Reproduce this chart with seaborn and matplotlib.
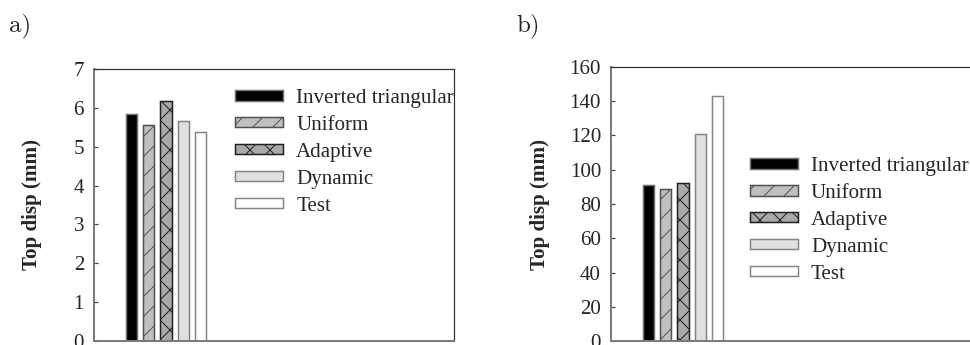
import matplotlib
matplotlib.use("Agg")
import matplotlib.pyplot as plt
import seaborn as sns
import pandas as pd

# Load patterns compared in each panel
methods = ["Inverted triangular", "Uniform", "Adaptive", "Dynamic", "Test"]
case = ["Model"]
top_disp_a = [5.84, 5.57, 6.17, 5.66, 5.37]
top_disp_b = [91.0, 89.0, 92.0, 121.0, 143.0]
ticks_a = [0, 1, 2, 3, 4, 5, 6, 7]
ticks_b = [0, 20, 40, 60, 80, 100, 120, 140, 160]

# Bar styling per load pattern
fills = ["#000000", "#c0c0c0", "#a9a9a9", "#e0e0e0", "#ffffff"]
edges = ["#707070", "#505050", "#202020", "#858585", "#858585"]
hatches = ["", "/", "x", "", ""]

DPI = 60
W, H = 970, 345
PT = 72.0 / DPI  # points per pixel

sns.set_theme(style="white")
plt.rcParams["font.family"] = ["Liberation Serif", "DejaVu Serif"]
plt.rcParams["hatch.linewidth"] = 1.0 * PT

fig = plt.figure(figsize=(W / DPI, H / DPI), dpi=DPI)

FS = 21 * PT


def px_box(left, top, bottom, width):
    return [left / W, (H - bottom) / H, width / W, (bottom - top) / H]


def panel(box, values, ticks, legend_xy, tag, tag_x):
    ax = fig.add_axes(box)
    df = pd.DataFrame({"case": case * len(methods), "method": methods, "disp": values})
    sns.barplot(data=df, x="case", y="disp", hue="method", hue_order=methods,
                palette=dict(zip(methods, fills)), saturation=1, width=0.6,
                gap=0.36, legend=False, ax=ax)
    for cont, fc, ec, h in zip(ax.containers, fills, edges, hatches):
        for p in cont.patches:
            p.set_facecolor(fc)
            p.set_edgecolor(ec)
            p.set_linewidth(1.5 * PT)
            p.set_hatch(h)

    ax.set_xlim(-0.5, 2.0)
    ax.set_ylim(ticks[0], ticks[-1])
    ax.set_yticks(ticks)
    ax.set_yticklabels([str(t) for t in ticks], fontsize=FS)
    ax.set_xticks([])
    ax.set_xlabel("")
    ax.tick_params(axis="y", direction="in", length=4 * PT, width=1.2 * PT,
                   color="#404040", pad=10 * PT, left=True)

    for side in ("left", "bottom"):
        ax.spines[side].set_color("#7a7a7a")
        ax.spines[side].set_linewidth(2 * PT)
    for side in ("top", "right"):
        ax.spines[side].set_color("#303030")
        ax.spines[side].set_linewidth(1.2 * PT)
        ax.spines[side].set_visible(True)

    ax.set_ylabel("Top disp (mm)", fontsize=FS, fontweight="bold")
    ax.yaxis.label.set_va("center")
    ax.yaxis.set_label_coords(legend_xy[2], 0.5)

    ax.legend(handles=ax.containers, labels=methods, loc="upper left",
              bbox_to_anchor=(legend_xy[0], legend_xy[1]), frameon=False,
              fontsize=FS, handlelength=48 / 21, handleheight=8 / 21,
              handletextpad=13 / 21, labelspacing=0.38, borderpad=0,
              borderaxespad=0)

    fig.text(tag_x / W, 1 - 26 / H, tag, fontsize=25 * PT, family="cmr10",
             ha="left", va="center")
    return ax


panel(px_box(94, 69, 341, 360), top_disp_a, ticks_a,
      (0.392, 0.927, -(94 - 32) / 360), "a)", 9)
panel(px_box(611, 67, 341, 360), top_disp_b, ticks_b,
      (0.386, 0.672, -(611 - 540) / 360), "b)", 516)

fig.savefig("out.png", dpi=DPI)
